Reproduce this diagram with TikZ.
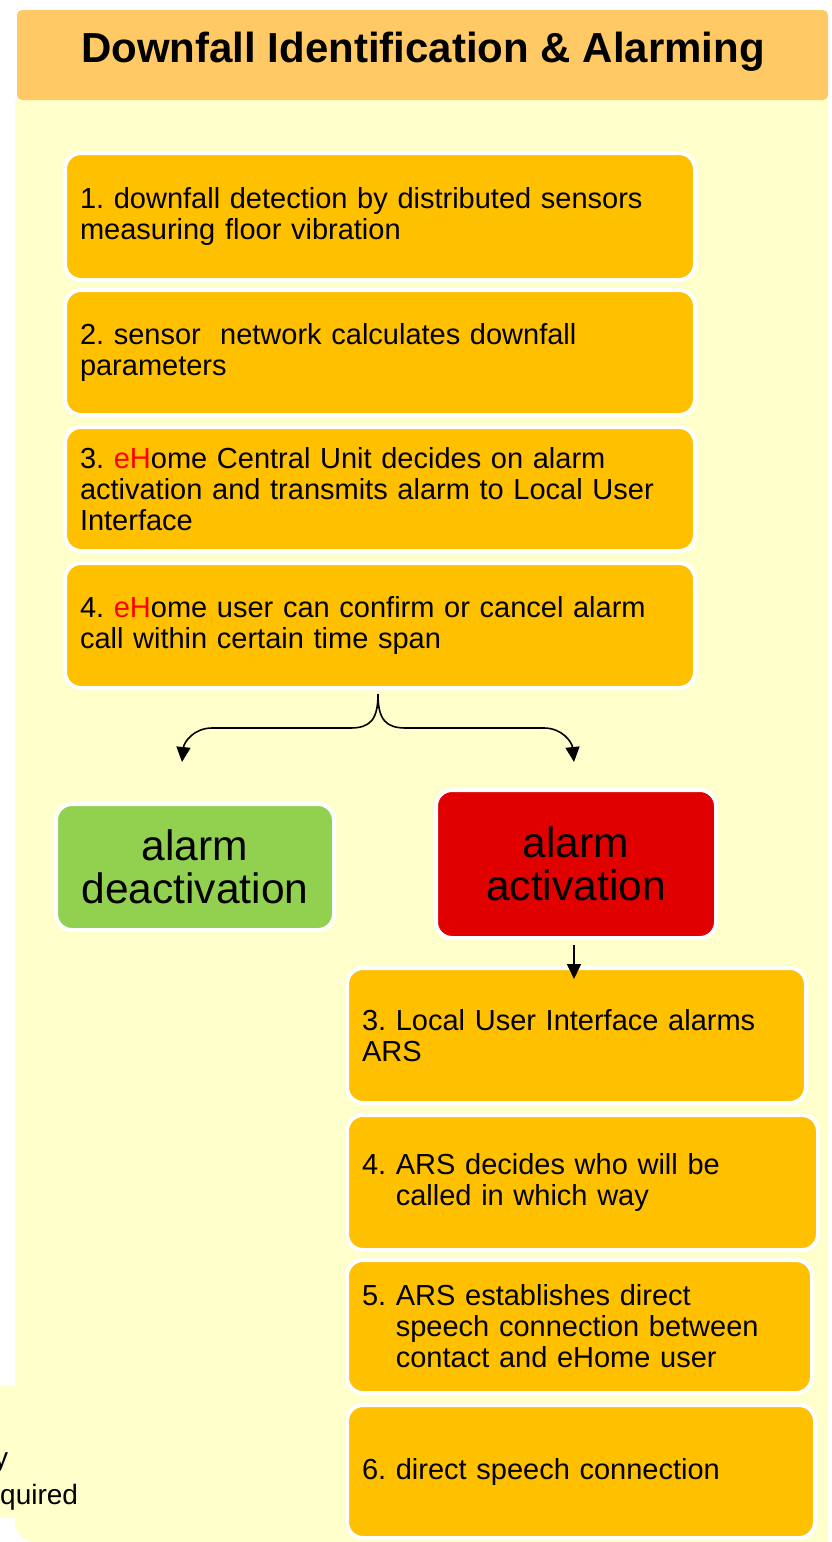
\documentclass[tikz,border=0pt]{standalone}
\usepackage{fontspec}
\setmainfont{Liberation Sans}
\usetikzlibrary{arrows.meta,calc}
\definecolor{titleband}{HTML}{FFC966}
\definecolor{bgyellow}{HTML}{FFFFCC}
\definecolor{boxorange}{HTML}{FFC000}
\definecolor{okgreen}{HTML}{92D050}
\definecolor{alarmred}{HTML}{E00000}
\definecolor{ehred}{HTML}{FF0000}
\frenchspacing
\begin{document}
\begin{tikzpicture}[x=1pt,y=-1pt,
  stepbox/.style={draw=white, line width=4pt, fill=boxorange, rounded corners=16pt,
    inner xsep=15pt, inner ysep=0pt, align=left, font=\fontsize{29}{31}\selectfont},
  statebox/.style={draw=white, line width=4pt, rounded corners=16pt, align=center,
    font=\fontsize{42.5}{43}\selectfont, inner sep=0pt},
  conn/.style={line width=1.6pt, black},
  tip/.style={-{Triangle[length=15pt,width=14pt]}},
  sidetext/.style={anchor=base west, inner sep=0pt, font=\fontsize{28}{28}\selectfont}
]
\useasboundingbox (0,0) rectangle (832,1542);
\fill[white] (0,0) rectangle (832,1542);
% backgrounds
\fill[bgyellow] (15,100) -- (828,100) -- (828,1542) -- (35,1542)
  .. controls (24,1542) and (15,1533) .. (15,1522) -- cycle;
\fill[bgyellow] (0,1386) rectangle (40,1518);
\node[sidetext] (side1) at (-6,1467) {y};
\node[sidetext] (side2) at (0,1504) {quired};
% title
\node[fill=titleband, rounded corners=5pt, minimum width=811pt, minimum height=90pt, inner sep=0pt] (title) at (422.5,55) {};
\node[anchor=base, inner sep=0pt, font=\bfseries\fontsize{42}{44}\selectfont] (titletext) at (423,62) {Downfall Identification \& Alarming};
% upper steps
\node[stepbox, text width=600pt, minimum height=127pt] (s1) at (380,216.5)
  {1. downfall detection by distributed sensors\\measuring floor vibration};
\node[stepbox, text width=600pt, minimum height=125pt] (s2) at (380,352.5)
  {2. sensor\ \ network calculates downfall\\parameters};
\node[stepbox, text width=600pt, minimum height=124pt] (s3) at (380,489)
  {3. {\color{ehred}eH}ome Central Unit decides on alarm\\activation and transmits alarm to Local User\\Interface};
\node[stepbox, text width=600pt, minimum height=125pt] (s4) at (380,625.5)
  {4. {\color{ehred}eH}ome user can confirm or cancel alarm\\call within certain time span};
% decision
\node[statebox, fill=okgreen, minimum width=278pt, minimum height=126pt] (deact) at (195,867) {alarm\\deactivation};
\node[statebox, fill=alarmred, minimum width=280pt, minimum height=148pt] (act) at (576,864) {alarm\\activation};
% lower steps
\node[stepbox, text width=429pt, minimum height=135pt] (s5) at (576.5,1035.5)
  {3. Local User Interface alarms\\ARS};
\node[stepbox, text width=441pt, minimum height=135pt] (s6) at (582.5,1182.5)
  {4. ARS decides who will be\\\hphantom{4.\ }called in which way};
\node[stepbox, text width=435pt, minimum height=133pt] (s7) at (579.5,1326.5)
  {5. ARS establishes direct\\\hphantom{5.\ }speech connection between\\\hphantom{5.\ }contact and eHome user};
\node[stepbox, text width=438pt, minimum height=133pt] (s8) at (581,1471.5)
  {6. direct speech connection};
% connectors
\coordinate (bt) at ($(s4.south)+(-2,4)$);
\coordinate (bl) at (182,762);
\coordinate (br) at (574,762);
\draw[conn, tip] (bt) .. controls (378,720) and (370,728) .. (350,728) -- (212,728)
  .. controls (194,728) and (184,742) .. (bl);
\draw[conn, tip] (bt) .. controls (378,720) and (386,728) .. (406,728) -- (544,728)
  .. controls (562,728) and (572,742) .. (br);
\draw[conn, tip] ($(act.south)+(-2,5)$) -- ($(act.south |- s5.north)+(-2,13)$);
\end{tikzpicture}
\end{document}
